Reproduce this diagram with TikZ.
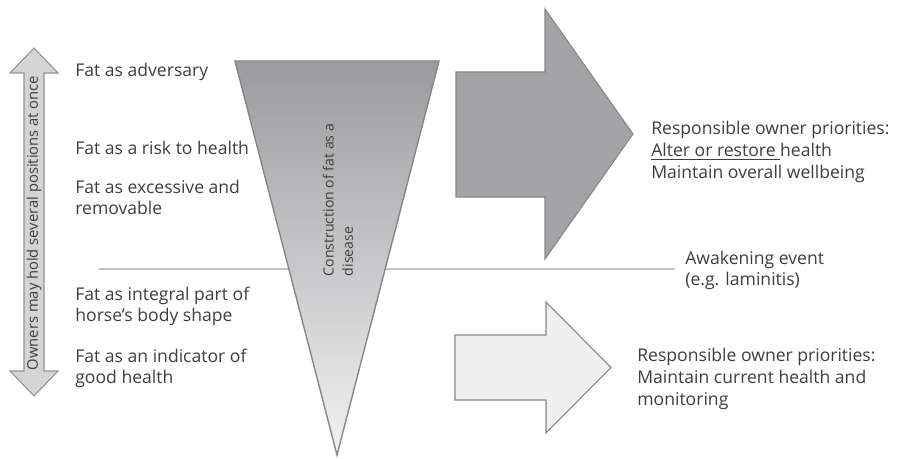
\documentclass[tikz,border=0pt]{standalone}
\usepackage{fontspec}
\setmainfont{Open Sans}
\usepackage{tikz}
\usetikzlibrary{positioning}
\definecolor{textcolor}{RGB}{62,62,62}
\definecolor{darkarrow}{RGB}{163,163,166}
\definecolor{lightarrow}{RGB}{239,239,239}
\definecolor{sidearrow}{RGB}{212,212,213}
\definecolor{edgecolor}{RGB}{135,135,138}
\definecolor{topshade}{RGB}{155,155,158}
\definecolor{botshade}{RGB}{242,242,243}
\definecolor{eventline}{RGB}{196,196,196}

\begin{document}
\begin{tikzpicture}[x=0.02cm, y=-0.02cm,
    every node/.style={font=\fontsize{10}{12}\selectfont, text=textcolor, inner sep=0pt},
    position/.style={anchor=west, align=left},
    priority/.style={anchor=west, align=left, font=\fontsize{10}{12.5}\selectfont}]
        \useasboundingbox (0,0) rectangle (906,459);

        % awakening event line, behind the triangle
        \coordinate (lineL) at (99,269);
        \coordinate (lineR) at (675,269);
        \draw[eventline, line width=1pt] (lineL) -- (lineR);

        % construction of fat as a disease
        \path[draw=edgecolor, line width=0.8pt, top color=topshade, bottom color=botshade]
          (235,61) -- (439,61) -- (337,455) -- cycle;
        \node[rotate=90, align=left, font=\fontsize{8}{11}\selectfont] (disease) at (338,200)
          {Construction of fat as a\\disease};

        % owners may hold several positions
        \draw[fill=sidearrow, draw=sidearrow!70!black, line width=0.6pt]
          (34,48) -- (58,73) -- (44,73) -- (44,371) -- (58,371) -- (34,396)
          -- (10,371) -- (24,371) -- (24,73) -- (10,73) -- cycle;
        \node[rotate=90, font=\fontsize{8.4}{10}\selectfont] (owners) at (34,223)
          {Owners may hold several positions at once};

        % positions on fat
        \node[position] (adversary) at (75,72)    {Fat as adversary};
        \node[position] (risk)      at (75,148)   {Fat as a risk to health};
        \node[position] (excess)    at (75,197.5) {Fat as excessive and\\removable};
        \node[position] (integral)  at (75,306.5) {Fat as integral part of\\horse's body shape};
        \node[position] (indicator) at (75,368)   {Fat as an indicator of\\good health};

        % upper arrow
        \draw[fill=darkarrow, draw=edgecolor, line width=0.6pt]
          (456,72) -- (545,72) -- (545,9) -- (633,134) -- (545,259) -- (545,197) -- (456,197) -- cycle;
        \node[priority] (upper) at (651,152)
          {Responsible owner priorities:\\\underline{Alter or restore\ }health\\Maintain overall wellbeing};

        \node[position] (event) at (685,270) {Awakening event\\(e.g. laminitis)};

        % lower arrow
        \draw[fill=lightarrow, draw=edgecolor, line width=0.6pt]
          (455,335) -- (546,335) -- (546,302) -- (611,367.5) -- (546,433) -- (546,400) -- (455,400) -- cycle;
        \node[priority] (lower) at (637,379)
          {Responsible owner priorities:\\Maintain current health and\\monitoring};
      \end{tikzpicture}
\end{document}
